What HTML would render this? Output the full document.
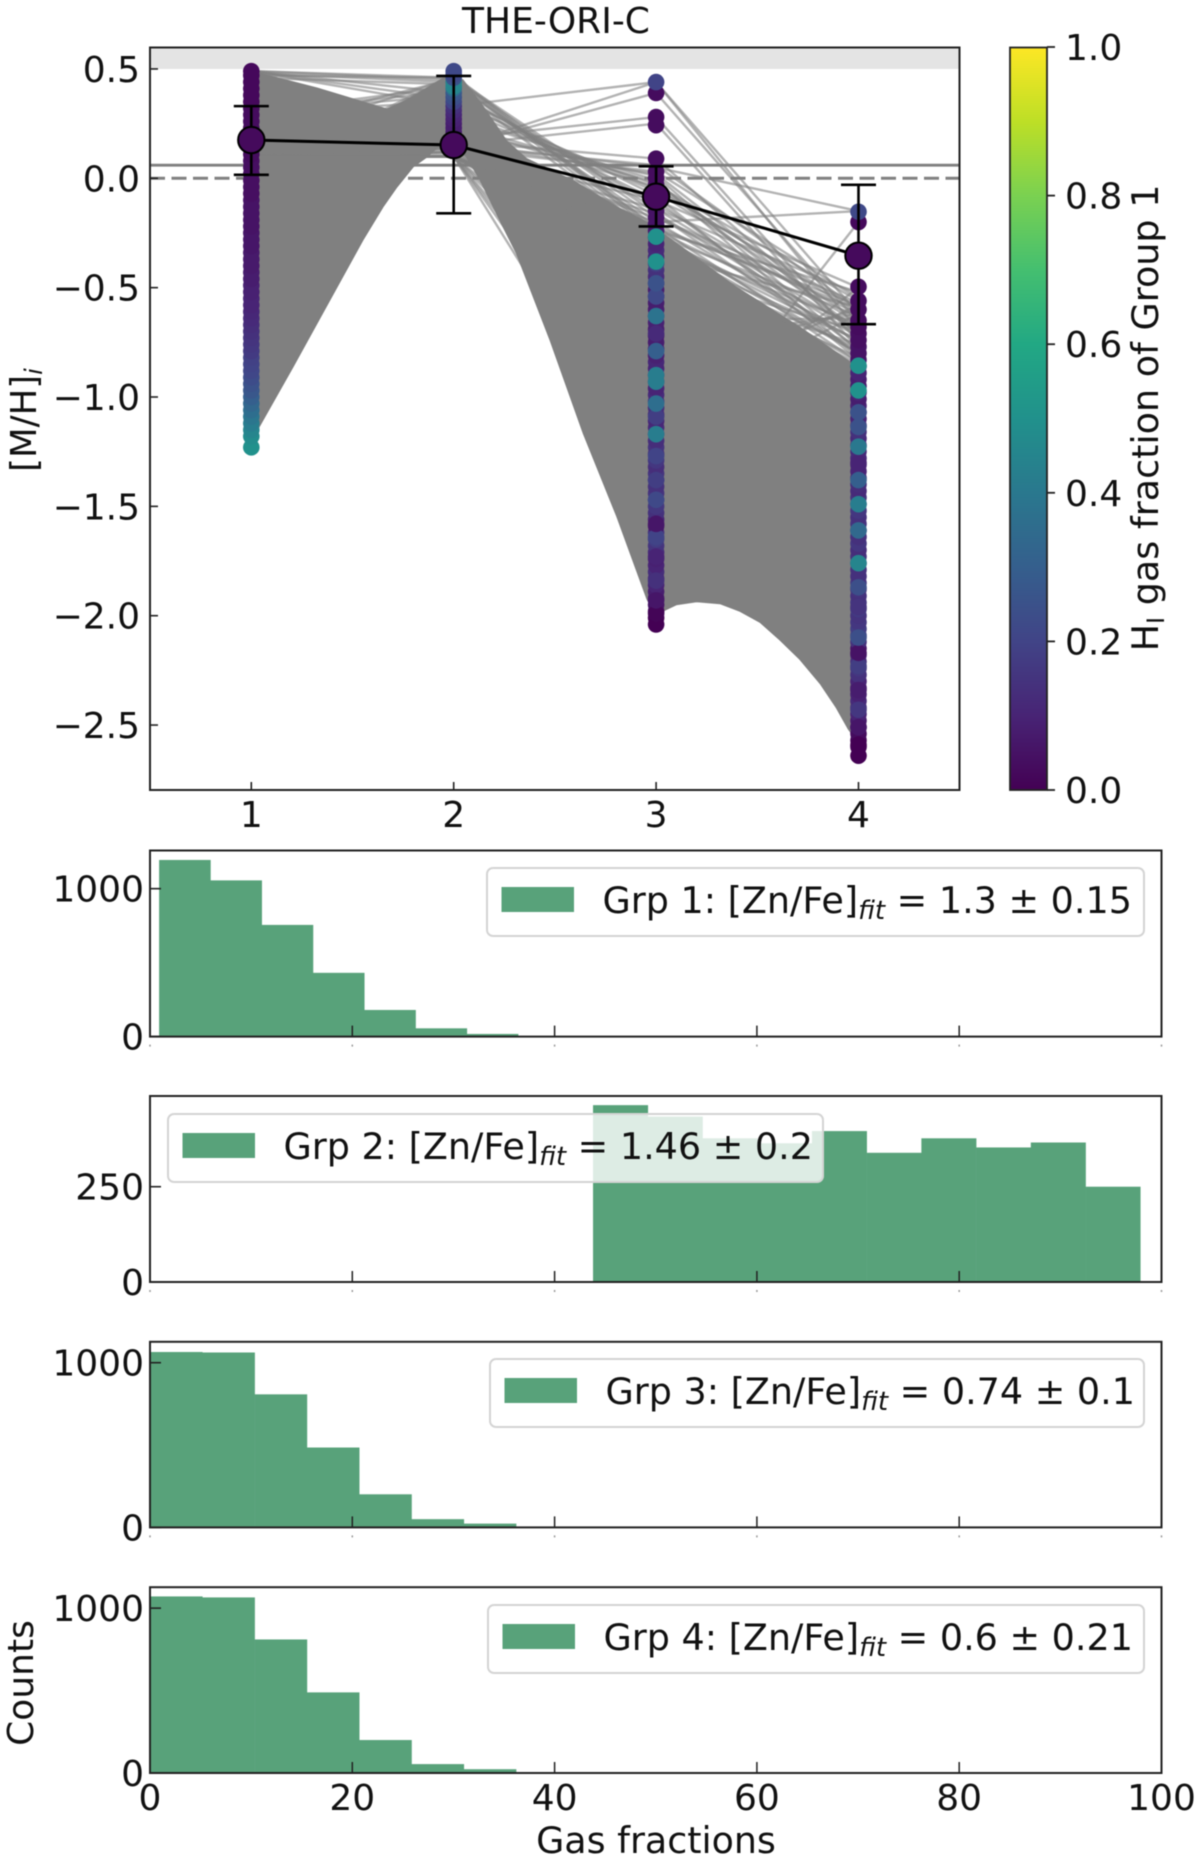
<!DOCTYPE html>
<html lang="en">
<head>
<meta charset="utf-8">
<title>THE-ORI-C gas fractions</title>
<style>
html,body{margin:0;padding:0;background:#fff;width:1200px;height:1861px;overflow:hidden}
svg{display:block;filter:blur(0.6px)}
text{font-family:"DejaVu Sans","Liberation Sans",sans-serif;fill:#111}
</style>
</head>
<body>
<svg id="fig" xmlns="http://www.w3.org/2000/svg" width="1200" height="1861" viewBox="0 0 1200 1861">
  <defs>
    <linearGradient id="viridis" x1="0" y1="1" x2="0" y2="0">
      <stop offset="0" stop-color="#440154"/><stop offset="0.1" stop-color="#482475"/><stop offset="0.2" stop-color="#414487"/><stop offset="0.3" stop-color="#355f8d"/><stop offset="0.4" stop-color="#2a788e"/><stop offset="0.5" stop-color="#21918c"/><stop offset="0.6" stop-color="#22a884"/><stop offset="0.7" stop-color="#44bf70"/><stop offset="0.8" stop-color="#7ad151"/><stop offset="0.9" stop-color="#bddf26"/><stop offset="1" stop-color="#fde725"/>
    </linearGradient>
  </defs>
  <g id="main-layer"></g>
  <g id="hist-layer"></g>
  <text x="556" y="33" font-size="36" text-anchor="middle">THE-ORI-C</text>
  <text transform="translate(36,420) rotate(-90)" font-size="35.5" text-anchor="middle">[M/H]<tspan font-size="24" font-style="italic" dy="6">i</tspan></text>
  <text transform="translate(1158,418) rotate(-90)" font-size="36.5" text-anchor="middle">H<tspan font-size="24" dy="6">I</tspan><tspan dy="-6"> gas fraction of Group 1</tspan></text>
  <text transform="translate(33,1683) rotate(-90)" font-size="36" text-anchor="middle">Counts</text>
  <text x="656" y="1853" font-size="36.4" text-anchor="middle">Gas fractions</text>
</svg>
<script>
// ---- main panel data ----
const groupTicks = [1, 2, 3, 4];
const metalTicks = [0.5, 0, -0.5, -1, -1.5, -2, -2.5];
const metalTickLabels = ['0.5', '0.0', '\u22120.5', '\u22121.0', '\u22121.5', '\u22122.0', '\u22122.5'];
const colorbarTicks = [0, 0.2, 0.4, 0.6, 0.8, 1];
const colorbarTickLabels = ['0.0', '0.2', '0.4', '0.6', '0.8', '1.0'];
const solarSolid = 0.06;
const solarDashed = 0;
const limitBand = 0.5;

const meanValues = [0.175, 0.152, -0.084, -0.354];
const errTop = [0.33, 0.468, 0.055, -0.03];
const errBottom = [0.016, -0.16, -0.22, -0.667];

const envUpperX = [1, 1.325, 1.552, 1.67, 1.76, 1.85, 1.947, 2, 2.046, 2.145, 2.263, 2.36, 2.59, 2.806, 2.955, 3, 3.09, 3.4, 3.71, 3.96, 4];
const envUpperV = [0.49, 0.413, 0.35, 0.317, 0.355, 0.403, 0.458, 0.47, 0.45, 0.33, 0.17, 0.09, -0.01, -0.13, -0.2, -0.23, -0.29, -0.5, -0.68, -0.84, -0.86];
const envLowerX = [1, 1.04, 1.206, 1.389, 1.552, 1.651, 1.72, 1.8, 1.869, 1.918, 2, 2.066, 2.13, 2.244, 2.31, 2.476, 2.64, 2.806, 2.955, 3, 3.044, 3.1, 3.2, 3.315, 3.414, 3.513, 3.61, 3.71, 3.81, 3.89, 3.95, 4];
const envLowerV = [-1.2, -1.135, -0.863, -0.556, -0.282, -0.131, -0.04, 0.052, 0.098, 0.139, 0.17, 0.093, -0.008, -0.222, -0.343, -0.74, -1.166, -1.547, -1.925, -2, -1.975, -1.95, -1.936, -1.945, -1.98, -2.03, -2.11, -2.2, -2.31, -2.42, -2.52, -2.58];

const trajG1 = [0.49, 0.1, 0.1, 0.1, 0.1, 0.1, 0.1, 0.1, 0.05, 0.05, 0.49, 0.49, 0.48, 0.47, 0.46, 0.22, 0.16, 0.02, 0.49, 0.49, 0.3, 0.3, 0.3, 0.3, 0.3, 0.3, 0.25, 0.2, 0.2, 0.2, 0.1, 0.1, 0.1, 0.1, 0.1, 0.1, 0.1, 0.1, 0.1, 0.1, 0.1, 0.1, 0.1, 0.1, 0.1, 0.1, 0.1, 0.1, 0.1, 0.1, 0.1, 0.1, 0.1, 0.1, 0.1];
const trajG2 = [0.33, 0.14, 0.14, 0.18, 0.15, 0.17, 0.15, 0.16, 0.14, 0.16, 0.46, 0.45, 0.44, 0.46, 0.43, 0.455, 0.46, 0.47, 0.39, 0.36, 0.4, 0.38, 0.35, 0.42, 0.3, 0.28, 0.33, 0.25, 0.22, 0.24, 0.12, 0.12, 0.13, 0.11, 0.1, 0.1, 0.12, 0.1, 0.1, 0.1, 0.1, 0.1, 0.1, 0.1, 0.1, 0.1, 0.1, 0.1, 0.1, 0.1, 0.1, 0.1, 0.1, 0.1, 0.1];
const trajG3 = [0.44, 0.44, 0.39, 0.28, 0.25, 0.09, 0.06, 0.05, 0.03, 0.02, -0.25, -0.27, -0.22, -0.24, -0.2, -0.18, -0.16, -0.23, -0.12, -0.1, -0.14, -0.08, -0.05, -0.28, -0.03, -0.01, -0.06, -0.02, 0.01, -0.04, -0.1, -0.14, -0.18, -0.2, -0.22, -0.26, -0.3, -0.33, -0.28, -0.32, -0.36, -0.38, -0.4, -0.42, -0.46, -0.35, -0.24, -0.16, -1.38, -1.2, -1.1, -1, -0.85, -0.75, -0.65];
const trajG4 = [-0.7, -0.62, -0.66, -0.75, -0.78, -0.72, -0.6, -0.15, -0.55, -0.7, -0.8, -0.72, -0.84, -0.68, -0.75, -0.62, -0.8, -0.58, -0.66, -0.78, -0.7, -0.83, -0.6, -0.74, -0.56, -0.82, -0.65, -0.71, -0.79, -0.62, -0.5, -0.53, -0.57, -0.15, -0.6, -0.63, -0.67, -0.74, -0.8, -0.84, -0.78, -0.85, -0.82, -0.7, -0.76, -0.59, -0.52, -0.72, -0.2, -0.5, -0.62, -0.58, -0.6, -0.62, -0.64];

const g1Values = [-1.23, -1.18, -1.15, -1.12, -1.09, -1.06, -1.03, -1, -0.97, -0.94, -0.91, -0.88, -0.85, -0.82, -0.79, -0.76, -0.73, -0.7, -0.67, -0.64, -0.61, -0.58, -0.55, -0.52, -0.49, -0.46, -0.43, -0.4, -0.37, -0.34, -0.31, -0.28, -0.25, -0.22, -0.19, -0.16, -0.13, -0.1, -0.07, -0.04, -0.01, 0.02, 0.05, 0.08, 0.11, 0.14, 0.17, 0.2, 0.23, 0.26, 0.29, 0.32, 0.35, 0.38, 0.41, 0.44, 0.47, 0.49];
const g1Colors = [0.5, 0.48, 0.45, 0.42, 0.39, 0.36, 0.33, 0.3, 0.27, 0.25, 0.23, 0.21, 0.2, 0.19, 0.17, 0.16, 0.15, 0.14, 0.13, 0.12, 0.11, 0.1, 0.1, 0.09, 0.09, 0.08, 0.08, 0.07, 0.07, 0.07, 0.06, 0.06, 0.06, 0.05, 0.05, 0.05, 0.05, 0.05, 0.04, 0.04, 0.04, 0.04, 0.04, 0.04, 0.03, 0.03, 0.03, 0.03, 0.03, 0.03, 0.03, 0.03, 0.02, 0.02, 0.02, 0.02, 0.02, 0.02];
const g2Values = [0.17, 0.19, 0.21, 0.23, 0.25, 0.27, 0.29, 0.31, 0.33, 0.35, 0.37, 0.39, 0.41, 0.42, 0.44, 0.46, 0.475, 0.49];
const g2Colors = [0.05, 0.06, 0.07, 0.08, 0.08, 0.09, 0.1, 0.12, 0.14, 0.2, 0.24, 0.27, 0.35, 0.45, 0.45, 0.25, 0.22, 0.22];
const g3BaseValues = [-2.01, -1.98, -1.95, -1.92, -1.89, -1.86, -1.83, -1.8, -1.77, -1.74, -1.71, -1.68, -1.65, -1.62, -1.59, -1.56, -1.53, -1.5, -1.47, -1.44, -1.41, -1.38, -1.35, -1.32, -1.29, -1.26, -1.23, -1.2, -1.17, -1.14, -1.11, -1.08, -1.05, -1.02, -0.99, -0.96, -0.93, -0.9, -0.87, -0.84, -0.81, -0.78, -0.75, -0.72, -0.69, -0.66, -0.63, -0.6, -0.57, -0.54, -0.51, -0.48, -0.45, -0.42, -0.39, -0.36, -0.33, -0.3, -0.27, -0.24, -0.21, -0.18, -0.15, -0.12, -0.09, -0.06, -0.03, 0, 0.03];
const g3BaseColors = [0, 0.02, 0.05, 0.07, 0.08, 0.1, 0.12, 0.13, 0.1, 0.09, 0.12, 0.15, 0.18, 0.15, 0.06, 0.1, 0.14, 0.16, 0.17, 0.15, 0.14, 0.16, 0.15, 0.13, 0.16, 0.14, 0.15, 0.13, 0.14, 0.12, 0.11, 0.12, 0.13, 0.15, 0.12, 0.1, 0.12, 0.12, 0.1, 0.11, 0.09, 0.12, 0.08, 0.08, 0.08, 0.09, 0.1, 0.08, 0.08, 0.12, 0.08, 0.12, 0.12, 0.14, 0.18, 0.12, 0.12, 0.1, 0.08, 0.08, 0.06, 0.05, 0.05, 0.05, 0.05, 0.04, 0.04, 0.03, 0.03];
const g3Values = [-2.04, -1.99, -1.93, -1.84, -1.73, -1.64, -1.58, -1.47, -1.38, -1.27, -1.17, -1.09, -1.03, -0.93, -0.9, -0.79, -0.71, -0.63, -0.54, -0.48, -0.381, -0.267, 0.09, 0.243, 0.28, 0.39, 0.44];
const g3Colors = [0, 0.01, 0.06, 0.14, 0.1, 0.2, 0.06, 0.22, 0.18, 0.2, 0.42, 0.18, 0.36, 0.42, 0.42, 0.3, 0.12, 0.38, 0.22, 0.25, 0.5, 0.5, 0.03, 0.03, 0.03, 0.03, 0.2];
const g4BaseValues = [-2.6, -2.57, -2.54, -2.51, -2.48, -2.45, -2.42, -2.39, -2.36, -2.33, -2.3, -2.27, -2.24, -2.21, -2.18, -2.15, -2.12, -2.09, -2.06, -2.03, -2, -1.97, -1.94, -1.91, -1.88, -1.85, -1.82, -1.79, -1.76, -1.73, -1.7, -1.67, -1.64, -1.61, -1.58, -1.55, -1.52, -1.49, -1.46, -1.43, -1.4, -1.37, -1.34, -1.31, -1.28, -1.25, -1.22, -1.19, -1.16, -1.13, -1.1, -1.07, -1.04, -1.01, -0.98, -0.95, -0.92, -0.89, -0.86, -0.83, -0.8, -0.77, -0.74, -0.71, -0.68, -0.65];
const g4BaseColors = [0, 0.01, 0.03, 0.05, 0.07, 0.1, 0.14, 0.12, 0.09, 0.08, 0.1, 0.14, 0.16, 0.14, 0.1, 0.06, 0.14, 0.2, 0.18, 0.16, 0.15, 0.17, 0.16, 0.14, 0.15, 0.17, 0.14, 0.14, 0.16, 0.15, 0.13, 0.16, 0.14, 0.13, 0.15, 0.14, 0.16, 0.17, 0.15, 0.12, 0.13, 0.14, 0.1, 0.1, 0.12, 0.12, 0.13, 0.12, 0.14, 0.14, 0.1, 0.12, 0.1, 0.08, 0.1, 0.08, 0.08, 0.1, 0.1, 0.06, 0.05, 0.05, 0.04, 0.04, 0.03, 0.03];
const g4Values = [-2.64, -2.59, -2.51, -2.43, -2.34, -2.23, -2.17, -2.1, -1.96, -1.87, -1.76, -1.61, -1.49, -1.38, -1.3, -1.227, -1.137, -1.07, -0.97, -0.857, -0.6, -0.56, -0.496, -0.2, -0.153];
const g4Colors = [0, 0, 0.06, 0.16, 0.08, 0.18, 0.05, 0.24, 0.15, 0.24, 0.45, 0.34, 0.42, 0.3, 0.1, 0.4, 0.25, 0.25, 0.5, 0.5, 0.03, 0.03, 0.03, 0.02, 0.22];
const groupValues = [g1Values, g2Values, g3BaseValues.concat(g3Values), g4BaseValues.concat(g4Values)];
const groupColors = [g1Colors, g2Colors, g3BaseColors.concat(g3Colors), g4BaseColors.concat(g4Colors)];

// ---- histogram data ----
const hist1Counts = [1194, 1056, 755, 431, 180, 56, 18];
const hist2Counts = [464, 434, 377, 364, 396, 339, 377, 353, 366, 250];
const hist3Counts = [1065, 1062, 808, 485, 201, 50, 23];
const hist4Counts = [1071, 1065, 810, 489, 200, 54, 23];
const histCounts = [hist1Counts, hist2Counts, hist3Counts, hist4Counts];
const histFirstEdge = [0.9, 43.8, 0, 0];
const histBinWidth = [5.07, 5.41, 5.17, 5.17];
const histYMax = [1258, 488, 1127, 1127];
const histYTicks = [[0, 1000], [0, 250], [0, 1000], [0, 1000]];
const gasTicks = [0, 20, 40, 60, 80, 100];
const legendGroups = ['Grp 1: [Zn/Fe]', 'Grp 2: [Zn/Fe]', 'Grp 3: [Zn/Fe]', 'Grp 4: [Zn/Fe]'];
const legendFits = [' = 1.3 \u00b1 0.15', ' = 1.46 \u00b1 0.2', ' = 0.74 \u00b1 0.1', ' = 0.6 \u00b1 0.21'];

// ---- layout ----
const NS = 'http://www.w3.org/2000/svg';
const INK = '#222';
const VIRIDIS = ['#440154', '#482475', '#414487', '#355f8d', '#2a788e', '#21918c', '#22a884', '#44bf70', '#7ad151', '#bddf26', '#fde725'];
function mk(tag, attrs, parent) {
  const n = document.createElementNS(NS, tag);
  for (const k in attrs) n.setAttribute(k, attrs[k]);
  parent.appendChild(n);
  return n;
}
function cmap(c) {
  const t = Math.max(0, Math.min(1, c)) * 10, i = Math.min(9, Math.floor(t)), f = t - i;
  const a = VIRIDIS[i], b = VIRIDIS[i + 1];
  let out = '#';
  for (let p = 1; p < 7; p += 2) {
    const x = parseInt(a.substr(p, 2), 16), y = parseInt(b.substr(p, 2), 16);
    out += Math.round(x + (y - x) * f).toString(16).padStart(2, '0');
  }
  return out;
}
const L = 150, R = 959.5, T = 47.5, B = 790;
const xMain = v => 251.3 + (v - 1) * 202.4;
const yMain = v => 178.3 - 218.7 * v;
const main = document.getElementById('main-layer');

const band = mk('rect', {x: L, y: T, width: R - L, height: yMain(limitBand) - T, fill: '#e4e4e4'}, main);


const solidLine = mk('line', {x1: L, x2: R, y1: yMain(solarSolid), y2: yMain(solarSolid), stroke: '#808080', 'stroke-width': 2.8}, main);


const dashedLine = mk('line', {x1: L, x2: R, y1: yMain(solarDashed), y2: yMain(solarDashed), stroke: '#808080', 'stroke-width': 3, 'stroke-dasharray': '15 6.5'}, main);



let envPts = [];
envUpperX.forEach((x, i) => envPts.push(xMain(x).toFixed(1) + ',' + yMain(envUpperV[i]).toFixed(1)));
for (let i = envLowerX.length - 1; i >= 0; i--) envPts.push(xMain(envLowerX[i]).toFixed(1) + ',' + yMain(envLowerV[i]).toFixed(1));
const envelope = mk('polygon', {points: envPts.join(' '), fill: '#808080', stroke: '#808080', 'stroke-width': 1}, main);



trajG1.forEach((_, i) => {
  const d = [trajG1[i], trajG2[i], trajG3[i], trajG4[i]].map((v, k) => xMain(groupTicks[k]).toFixed(1) + ',' + yMain(v).toFixed(1)).join(' ');
  const p = mk('polyline', {points: d, fill: 'none', stroke: '#808080', 'stroke-opacity': 0.6, 'stroke-width': 2.4}, main);
  
  
});

groupValues.forEach((vals, g) => {
  vals.forEach((v, i) => {
    const c = mk('circle', {cx: xMain(groupTicks[g]), cy: yMain(v), r: 8.3, fill: cmap(groupColors[g][i])}, main);
    
    
  });
});

const meanLine = mk('polyline', {points: meanValues.map((v, i) => xMain(groupTicks[i]) + ',' + yMain(v)).join(' '), fill: 'none', stroke: '#000', 'stroke-width': 3}, main);


meanValues.forEach((v, i) => {
  const x = xMain(groupTicks[i]);
  const bar = mk('path', {d: 'M' + x + ' ' + yMain(errTop[i]) + 'V' + yMain(errBottom[i]) + 'M' + (x - 17.5) + ' ' + yMain(errTop[i]) + 'h35M' + (x - 17.5) + ' ' + yMain(errBottom[i]) + 'h35', fill: 'none', stroke: '#000', 'stroke-width': 2.6}, main);
  
  
  const m = mk('circle', {cx: x, cy: yMain(v), r: 13.2, fill: '#450a5c', stroke: '#000', 'stroke-width': 2}, main);
  
  
});

const frame = mk('rect', {x: L, y: T, width: R - L, height: B - T, fill: 'none', stroke: INK, 'stroke-width': 2}, main);



metalTicks.forEach((v, i) => {
  const y = yMain(v);
  const t = mk('line', {x1: L, x2: L + 8, y1: y, y2: y, stroke: INK, 'stroke-width': 1.6}, main);
  
  
  const l = mk('text', {x: 140, y: y + 13, 'font-size': 36, 'text-anchor': 'end'}, main);
  l.textContent = metalTickLabels[i];
  
  
});
groupTicks.forEach(v => {
  const x = xMain(v);
  const t = mk('line', {x1: x, x2: x, y1: B, y2: B - 8, stroke: INK, 'stroke-width': 1.6}, main);
  
  
  const l = mk('text', {x: x, y: 827, 'font-size': 36, 'text-anchor': 'middle'}, main);
  l.textContent = v;
  
  
});

const CL = 1010, CR = 1047, yBar = v => 790 - 743 * v;
const bar = mk('rect', {x: CL, y: T, width: CR - CL, height: B - T, fill: 'url(#viridis)', stroke: INK, 'stroke-width': 1.8}, main);


colorbarTicks.forEach((v, i) => {
  const y = yBar(v);
  const t = mk('line', {x1: CR, x2: CR + 8, y1: y, y2: y, stroke: INK, 'stroke-width': 1.8}, main);
  
  
  const l = mk('text', {x: 1065, y: y + 13, 'font-size': 36}, main);
  l.textContent = colorbarTickLabels[i];
  
  
});

// ---- histograms ----
const hist = document.getElementById('hist-layer');
const HL = 150, HR = 1161.5;
const panelTop = [850.5, 1096, 1341.8, 1587.2];
const panelBottom = [1036.6, 1282, 1527.4, 1773];
const legendBox = [[487, 868, 657, 68], [168, 1114, 655, 68], [490, 1359, 654, 68], [488, 1605, 656, 68]];
const xGas = v => HL + (HR - HL) * v / 100;

histCounts.forEach((counts, p) => {
  const top = panelTop[p], bot = panelBottom[p];
  const yH = v => bot - (bot - top) * v / histYMax[p];
  const g = mk('g', {}, hist);
  
  
  counts.forEach((n, i) => {
    const x0 = xGas(histFirstEdge[p] + i * histBinWidth[p]);
    const x1 = xGas(histFirstEdge[p] + (i + 1) * histBinWidth[p]);
    const r = mk('rect', {x: x0, y: yH(n), width: x1 - x0 + 0.3, height: bot - yH(n), fill: '#58a27a'}, g);
    
    
  });
  const fr = mk('rect', {x: HL, y: top, width: HR - HL, height: bot - top, fill: 'none', stroke: INK, 'stroke-width': 2}, g);
  
  
  histYTicks[p].forEach(v => {
    const y = yH(v);
    const t = mk('line', {x1: HL, x2: HL + 11, y1: y, y2: y, stroke: INK, 'stroke-width': 1.6}, g);
    
    
    const l = mk('text', {x: 144, y: y + 13, 'font-size': 36, 'text-anchor': 'end'}, g);
    l.textContent = v;
    
    
  });
  gasTicks.forEach(v => {
    const x = xGas(v);
    if (v > 0 && v < 100) {
      const t = mk('line', {x1: x, x2: x, y1: bot, y2: bot - 11, stroke: INK, 'stroke-width': 1.5}, g);
      
      
    }
    if (p < 3) {
      const s = mk('line', {x1: x, x2: x, y1: bot + 8, y2: bot + 10, stroke: '#999', 'stroke-width': 1.5}, g);
      
      
    } else {
      const l = mk('text', {x: x, y: 1810, 'font-size': 36, 'text-anchor': 'middle'}, g);
      l.textContent = v;
      
      
    }
  });
  const b = legendBox[p];
  const lg = mk('g', {}, g);
  
  
  mk('rect', {x: b[0], y: b[1], width: b[2], height: b[3], rx: 6, fill: '#fff', 'fill-opacity': 0.8, stroke: '#d4d4d4', 'stroke-width': 2}, lg);
  mk('rect', {x: b[0] + 14.5, y: b[1] + 19, width: 72.5, height: 25, fill: '#58a27a'}, lg);
  const txt = mk('text', {x: b[0] + 115.5, y: b[1] + 45, 'font-size': 36.5}, lg);
  txt.appendChild(document.createTextNode(legendGroups[p]));
  const sub = mk('tspan', {'font-size': 26, 'font-style': 'italic', dy: 6}, txt);
  sub.textContent = 'fit';
  const rest = mk('tspan', {dy: -6}, txt);
  rest.textContent = legendFits[p];
});
</script>
</body>
</html>
